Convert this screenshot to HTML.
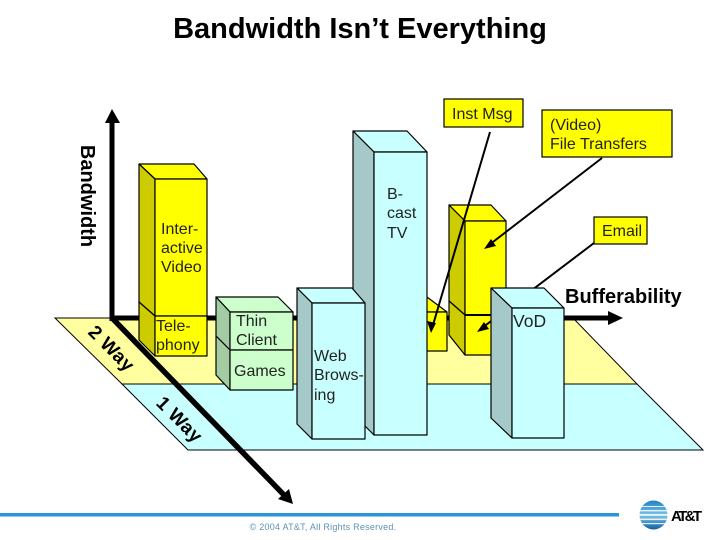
<!DOCTYPE html>
<html><head><meta charset="utf-8"><style>
html,body{margin:0;padding:0;background:#fff}
svg{display:block}
text{font-family:"Liberation Sans",sans-serif;font-size:16px;fill:#222}
.b{font-weight:bold;fill:#000}
.s{stroke:#000;stroke-width:1.2;stroke-linejoin:round}
.y1{fill:#ffff00}.y2{fill:#cccc00}
.c1{fill:#c8ffff}.c2{fill:#a5c8c8}
.g1{fill:#ccffcc}.g2{fill:#a3cca3}
</style></head><body>
<svg width="720" height="540" viewBox="0 0 720 540" xmlns="http://www.w3.org/2000/svg">
<rect width="720" height="540" fill="#fff"/>
<text x="360" y="38" text-anchor="middle" class="b" style="font-size:29px">Bandwidth Isn’t Everything</text>

<!-- floor -->
<polygon points="55,318 573,318 637,384 122,384" fill="#ffffa0" stroke="#000"/>
<polygon points="122,384 637,384 703,450 188,450" fill="#c8ffff" stroke="#000"/>

<!-- axes -->
<line x1="112" y1="321" x2="112" y2="120" stroke="#000" stroke-width="5"/>
<polygon points="112,109 105,123 120,123" fill="#000"/>
<line x1="110" y1="318" x2="610" y2="318" stroke="#000" stroke-width="5"/>
<polygon points="608,311 623,318 608,325" fill="#000"/>

<!-- file transfers / email stack -->
<g class="s">
<polygon class="y1" points="465,221 449,205 491,205 506,221"/>
<polygon class="y2" points="465,221 449,205 449,301 465,315"/>
<rect class="y1" x="465" y="221" width="41" height="94"/>
<polygon class="y2" points="465,315 449,301 449,335 465,355"/>
<rect class="y1" x="465" y="315" width="45" height="40"/>
</g>
<line x1="465" y1="315" x2="506" y2="315" stroke="#000" stroke-width="2"/>
<!-- inst msg box -->
<g class="s">
<polygon class="y1" points="427,312 420,297 427,297 447,312"/>
<rect class="y1" x="420" y="312" width="27" height="39"/>
</g>

<!-- interactive video / telephony -->
<g class="s">
<polygon class="y1" points="155,179 139,164 194,164 207,179"/>
<polygon class="y2" points="155,179 139,164 139,302 155,316"/>
<rect class="y1" x="155" y="179" width="52" height="137"/>
<polygon class="y2" points="155,316 139,302 139,340 155,356"/>
<rect class="y1" x="155" y="316" width="52" height="40"/>
</g>
<text x="161" y="234">Inter-</text><text x="161" y="253">active</text><text x="161" y="272">Video</text>
<text x="156" y="331">Tele-</text><text x="156" y="350">phony</text>

<!-- thin client / games -->
<g class="s">
<polygon class="g1" points="230,312 216,297 278,297 293,312"/>
<polygon class="g2" points="230,312 216,297 216,336 230,350"/>
<rect class="g1" x="230" y="312" width="63" height="38"/>
<polygon class="g2" points="230,350 216,336 216,375 230,390"/>
<rect class="g1" x="230" y="350" width="63" height="40"/>
</g>
<text x="236" y="326">Thin</text><text x="236" y="345">Client</text>
<text x="234" y="376">Games</text>

<!-- b-cast -->
<g class="s">
<polygon class="c1" points="374,152 353,131 407,131 427,152"/>
<polygon class="c2" points="374,152 353,131 353,414 374,435"/>
<rect class="c1" x="374" y="152" width="53" height="283"/>
</g>
<text x="387" y="199">B-</text><text x="387" y="218">cast</text><text x="387" y="238">TV</text>

<!-- web browsing -->
<g class="s">
<polygon class="c1" points="312,303 297,288 352,288 365,303"/>
<polygon class="c2" points="312,303 297,288 297,424 312,439"/>
<rect class="c1" x="312" y="303" width="53" height="136"/>
</g>
<text x="314" y="361">Web</text><text x="314" y="380">Brows-</text><text x="314" y="400">ing</text>

<!-- connectors behind VoD -->
<line x1="594" y1="243" x2="482" y2="328" stroke="#000" stroke-width="2"/>
<polygon points="477,332 484,322 489,329" fill="#000"/>
<line x1="602" y1="158" x2="489" y2="245" stroke="#000" stroke-width="2"/>
<polygon points="484,249 491,239 496,246" fill="#000"/>

<!-- vod -->
<g class="s">
<polygon class="c1" points="512,308 491,288 544,288 564,308"/>
<polygon class="c2" points="512,308 491,288 491,418 512,438"/>
<rect class="c1" x="512" y="308" width="52" height="130"/>
</g>
<text x="513" y="327" style="font-size:17.5px">VoD</text>

<!-- inst msg connector -->
<line x1="490" y1="132" x2="433" y2="325" stroke="#000" stroke-width="2"/>
<polygon points="431,333 427,321 436,323" fill="#000"/>

<!-- diagonal axis -->
<line x1="112" y1="318" x2="285" y2="496" stroke="#000" stroke-width="5.5"/>
<polygon points="293,504 278,499 289,489" fill="#000"/>

<!-- callouts -->
<g stroke="#000" stroke-width="1.2" fill="#ffff00">
<rect x="444" y="99" width="79" height="28"/>
<rect x="542" y="110" width="130" height="47"/>
<rect x="594" y="217" width="53" height="27"/>
</g>
<text x="452" y="119">Inst Msg</text>
<text x="550" y="130">(Video)</text><text x="550" y="149">File Transfers</text>
<text x="602" y="236">Email</text>

<!-- axis labels -->
<text class="b" style="font-size:20px" transform="translate(81,196) rotate(90)" text-anchor="middle">Bandwidth</text>
<text x="565" y="303" class="b" style="font-size:20px">Bufferability</text>
<text class="b" style="font-size:19px" transform="translate(112,348) rotate(45)" text-anchor="middle" dy="7" letter-spacing="0.4">2 Way</text>
<text class="b" style="font-size:19px" transform="translate(180,419) rotate(45)" text-anchor="middle" dy="7" letter-spacing="0.4">1 Way</text>

<!-- footer -->
<rect x="0" y="513" width="619" height="3.5" fill="#2b93d9"/>
<text x="323" y="530" text-anchor="middle" style="font-size:9px;fill:#5b93b5;letter-spacing:0.25px">© 2004 AT&amp;T, All Rights Reserved.</text>

<!-- logo -->
<defs><linearGradient id="g" x1="0" y1="0" x2="0" y2="1">
<stop offset="0" stop-color="#1f7fc4"/><stop offset="0.5" stop-color="#7cc4ea"/><stop offset="1" stop-color="#135f9e"/>
</linearGradient><clipPath id="cl"><ellipse cx="653.5" cy="515" rx="14" ry="14.5"/></clipPath></defs>
<ellipse cx="653.5" cy="515" rx="14" ry="14.5" fill="url(#g)"/>
<g clip-path="url(#cl)" fill="#fff" opacity="0.85">
<rect x="639" y="506" width="30" height="1"/>
<rect x="639" y="510" width="30" height="1.4"/>
<rect x="639" y="514" width="30" height="1.8"/>
<rect x="639" y="518.5" width="30" height="1.6"/>
<rect x="639" y="523" width="30" height="1.2"/>
</g>
<text x="671" y="521" class="b" style="font-size:15px" textLength="31" lengthAdjust="spacing">AT&amp;T</text>
</svg>
</body></html>
